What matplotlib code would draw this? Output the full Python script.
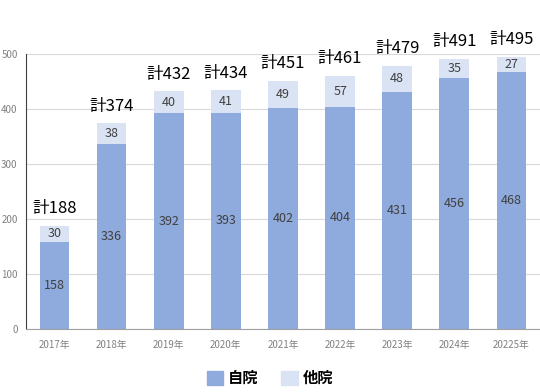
import matplotlib
matplotlib.use("Agg")
import matplotlib.pyplot as plt
from matplotlib.patches import Patch

plt.rcParams["font.family"] = ["Noto Sans CJK JP", "DejaVu Sans"]

years = ["2017年", "2018年", "2019年", "2020年", "2021年", "2022年",
         "2023年", "2024年", "20225年"]
own = [158, 336, 392, 393, 402, 404, 431, 456, 468]      # 自院
other = [30, 38, 40, 41, 49, 57, 48, 35, 27]             # 他院

OWN_COLOR = "#8FAADC"
OTHER_COLOR = "#DAE3F3"

fig = plt.figure(figsize=(5.4, 3.92), dpi=100)
ax = fig.add_axes([0.048, 0.161, 0.952, 0.701])

x = range(len(years))
ax.bar(x, own, width=0.52, color=OWN_COLOR, zorder=2)
ax.bar(x, other, width=0.52, bottom=own, color=OTHER_COLOR, zorder=2)

for i, (a, b) in enumerate(zip(own, other)):
    ax.text(i, a / 2, str(a), ha="center", va="center", fontsize=9, color="#404040")
    ax.text(i, a + b / 2, str(b), ha="center", va="center", fontsize=9, color="#404040")
    ax.text(i, a + b + 16, f"計{a + b}", ha="center", va="bottom", fontsize=12, color="black")

ax.set_xlim(-0.5, len(years) - 0.5)
ax.set_ylim(0, 500)
ax.set_yticks(range(0, 501, 100))
ax.set_xticks(list(x))
ax.set_xticklabels(years)
ax.tick_params(axis="both", length=0, labelsize=7, colors="#808080")
ax.tick_params(axis="x", pad=8)
ax.tick_params(axis="y", pad=6)
ax.grid(axis="y", color="#D9D9D9", lw=0.8, zorder=0)
for s in ("top", "right"):
    ax.spines[s].set_visible(False)
ax.spines["left"].set_color("#404040")
ax.spines["bottom"].set_color("#A0A0A0")

handles = [Patch(color=OWN_COLOR, label="自院"), Patch(color=OTHER_COLOR, label="他院")]
fig.legend(handles=handles, loc="center", bbox_to_anchor=(0.5, 0.035), ncol=2,
           frameon=False, prop={"size": 11, "weight": "bold"},
           handlelength=1.1, handleheight=1.1, handletextpad=0.3, columnspacing=1.5)

fig.savefig("out.png", dpi=100)
